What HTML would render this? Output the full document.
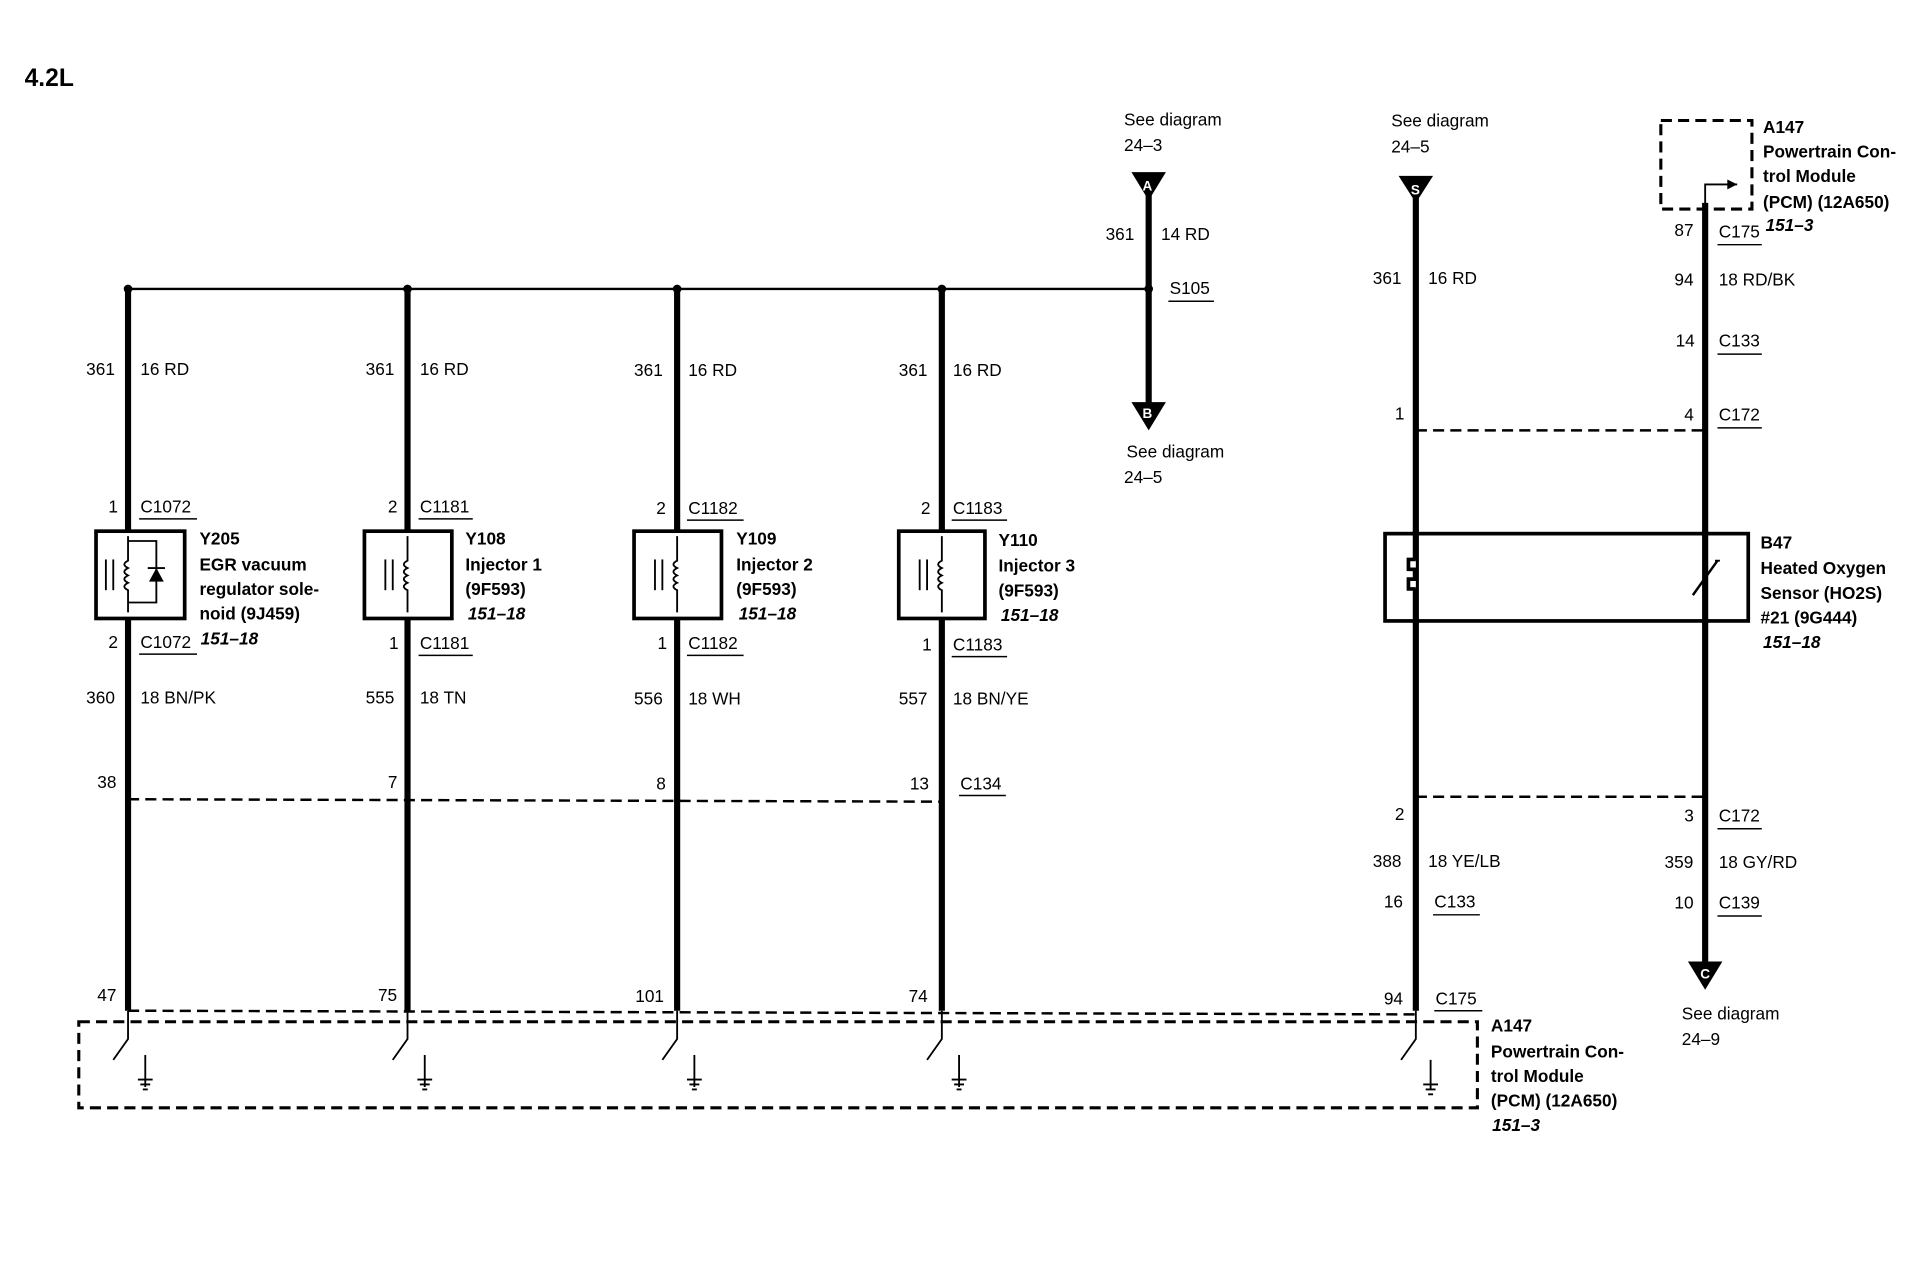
<!DOCTYPE html>
<html><head><meta charset="utf-8"><style>
html,body{margin:0;padding:0;background:#fff;}
svg{display:block;}
text{font-family:"Liberation Sans",Arial,sans-serif;font-size:14px;fill:#000;}
.b{font-weight:bold;}
.i{font-weight:bold;font-style:italic;}
.w{stroke:#000;stroke-width:5;fill:none;}
.t{stroke:#000;stroke-width:1.5;fill:none;}
.d{stroke:#000;stroke-width:2;fill:none;stroke-dasharray:9,5;}
.bx{stroke:#000;stroke-width:3;fill:#fff;}
.u{stroke:#000;stroke-width:1.2;}
</style></head><body>
<svg width="1928" height="1264" viewBox="0 0 1566 1028" preserveAspectRatio="none" xmlns="http://www.w3.org/2000/svg">
<text x="20" y="70" class="b" style="font-size:20px">4.2L</text>

<line x1="104" y1="235" x2="930" y2="235" class="t" style="stroke-width:2"/>
<g fill="#000"><circle cx="104" cy="235" r="3.5"/><circle cx="331" cy="235" r="3.5"/><circle cx="550" cy="235" r="3.5"/><circle cx="765" cy="235" r="3.5"/><circle cx="933" cy="235" r="3.5"/></g>

<line x1="933" y1="158" x2="933" y2="330" class="w"/>
<polygon points="919,140 947,140 933,163" fill="#000"/><text x="928" y="155" style="fill:#fff;font-size:11px" class="b">A</text>
<polygon points="919,327 947,327 933,350" fill="#000"/><text x="928" y="340" style="fill:#fff;font-size:11px" class="b">B</text>
<text x="913" y="102">See diagram</text><text x="913" y="123">24–3</text>
<text x="898" y="195">361</text><text x="943" y="195">14 RD</text>
<text x="950" y="239">S105</text><line x1="949" y1="245" x2="986" y2="245" class="u"/>
<text x="915" y="372">See diagram</text><text x="913" y="393">24–5</text>

<g class="w">
<line x1="104" y1="235" x2="104" y2="432"/><line x1="104" y1="503" x2="104" y2="822"/>
<line x1="331" y1="235" x2="331" y2="432"/><line x1="331" y1="503" x2="331" y2="822"/>
<line x1="550" y1="235" x2="550" y2="432"/><line x1="550" y1="503" x2="550" y2="822"/>
<line x1="765" y1="235" x2="765" y2="432"/><line x1="765" y1="503" x2="765" y2="822"/>
<line x1="1150" y1="160" x2="1150" y2="822"/>
<line x1="1385" y1="165" x2="1385" y2="785"/>
</g>
<text x="70" y="305">361</text><text x="114" y="305">16 RD</text>
<text x="297" y="305">361</text><text x="341" y="305">16 RD</text>
<text x="515" y="306">361</text><text x="559" y="306">16 RD</text>
<text x="730" y="306">361</text><text x="774" y="306">16 RD</text>

<rect x="78" y="432" width="72" height="71" class="bx"/>
<rect x="296" y="432" width="71" height="71" class="bx"/>
<rect x="515" y="432" width="71" height="71" class="bx"/>
<rect x="730" y="432" width="70" height="71" class="bx"/>
<g class="t">
<line x1="86" y1="455" x2="86" y2="480"/><line x1="92" y1="455" x2="92" y2="480"/>
<path d="M104 436 v20 q-6 3 0 6 q-6 3 0 6 q-6 3 0 6 q-6 3 0 6 v18"/>
<path d="M104 440 h23 v50 h-23"/>
<line x1="313" y1="455" x2="313" y2="480"/><line x1="319" y1="455" x2="319" y2="480"/>
<path d="M331 436 v20 q-6 3 0 6 q-6 3 0 6 q-6 3 0 6 q-6 3 0 6 v18"/>
<line x1="532" y1="455" x2="532" y2="480"/><line x1="538" y1="455" x2="538" y2="480"/>
<path d="M550 436 v20 q-6 3 0 6 q-6 3 0 6 q-6 3 0 6 q-6 3 0 6 v18"/>
<line x1="747" y1="455" x2="747" y2="480"/><line x1="753" y1="455" x2="753" y2="480"/>
<path d="M765 436 v20 q-6 3 0 6 q-6 3 0 6 q-6 3 0 6 q-6 3 0 6 v18"/>
</g>
<polygon points="121,473 133,473 127,462" fill="#000"/><line x1="120" y1="462" x2="134" y2="462" class="t"/>

<text x="88" y="417">1</text><text x="114" y="417">C1072</text><line x1="113" y1="422" x2="160" y2="422" class="u"/>
<text x="315" y="417">2</text><text x="341" y="417">C1181</text><line x1="340" y1="422" x2="384" y2="422" class="u"/>
<text x="533" y="418">2</text><text x="559" y="418">C1182</text><line x1="558" y1="423" x2="604" y2="423" class="u"/>
<text x="748" y="418">2</text><text x="774" y="418">C1183</text><line x1="773" y1="423" x2="818" y2="423" class="u"/>

<text x="162" y="443" class="b">Y205</text><text x="162" y="464" class="b">EGR vacuum</text><text x="162" y="484" class="b">regulator sole-</text><text x="162" y="504" class="b">noid (9J459)</text><text x="163" y="524" class="i">151–18</text>
<text x="378" y="443" class="b">Y108</text><text x="378" y="464" class="b">Injector 1</text><text x="378" y="484" class="b">(9F593)</text><text x="380" y="504" class="i">151–18</text>
<text x="598" y="443" class="b">Y109</text><text x="598" y="464" class="b">Injector 2</text><text x="598" y="484" class="b">(9F593)</text><text x="600" y="504" class="i">151–18</text>
<text x="811" y="444" class="b">Y110</text><text x="811" y="465" class="b">Injector 3</text><text x="811" y="485" class="b">(9F593)</text><text x="813" y="505" class="i">151–18</text>

<text x="88" y="527">2</text><text x="114" y="527">C1072</text><line x1="113" y1="532" x2="160" y2="532" class="u"/>
<text x="316" y="528">1</text><text x="341" y="528">C1181</text><line x1="340" y1="533" x2="384" y2="533" class="u"/>
<text x="534" y="528">1</text><text x="559" y="528">C1182</text><line x1="558" y1="533" x2="604" y2="533" class="u"/>
<text x="749" y="529">1</text><text x="774" y="529">C1183</text><line x1="773" y1="534" x2="818" y2="534" class="u"/>

<text x="70" y="572">360</text><text x="114" y="572">18 BN/PK</text>
<text x="297" y="572">555</text><text x="341" y="572">18 TN</text>
<text x="515" y="573">556</text><text x="559" y="573">18 WH</text>
<text x="730" y="573">557</text><text x="774" y="573">18 BN/YE</text>

<text x="79" y="641">38</text><text x="315" y="641">7</text><text x="533" y="642">8</text><text x="739" y="642">13</text>
<text x="780" y="642">C134</text><line x1="779" y1="647" x2="817" y2="647" class="u"/>
<line x1="104" y1="650" x2="765" y2="652" class="d"/>

<text x="79" y="814">47</text><text x="307" y="814">75</text><text x="516" y="815">101</text><text x="738" y="815">74</text>
<text x="1124" y="817">94</text><text x="1166" y="817">C175</text><line x1="1165" y1="822" x2="1204" y2="822" class="u"/>
<line x1="104" y1="822" x2="1150" y2="825" class="d"/>
<rect x="64" y="831" width="1136" height="70" class="d" style="stroke-width:2.5"/>
<text x="1211" y="839" class="b">A147</text><text x="1211" y="860" class="b">Powertrain Con-</text><text x="1211" y="880" class="b">trol Module</text><text x="1211" y="900" class="b">(PCM) (12A650)</text><text x="1212" y="920" class="i">151–3</text>

<g class="t">
<path d="M104 822 v23 l-12 17"/><path d="M118 858 v26 M112 878 h12 M114 882 h8 M116 886 h4"/>
<path d="M331 822 v23 l-12 17"/><path d="M345 858 v26 M339 878 h12 M341 882 h8 M343 886 h4"/>
<path d="M550 822 v23 l-12 17"/><path d="M564 858 v26 M558 878 h12 M560 882 h8 M562 886 h4"/>
<path d="M765 822 v23 l-12 17"/><path d="M779 858 v26 M773 878 h12 M775 882 h8 M777 886 h4"/>
<path d="M1150 822 v23 l-12 17"/><path d="M1162 862 v24 M1156 882 h12 M1158 886 h8 M1160 890 h4"/>
</g>

<polygon points="1136,143 1164,143 1150,165" fill="#000"/><text x="1146" y="158" style="fill:#fff;font-size:11px" class="b">S</text>
<text x="1130" y="103">See diagram</text><text x="1130" y="124">24–5</text>
<text x="1115" y="231">361</text><text x="1160" y="231">16 RD</text>
<text x="1133" y="341">1</text>
<line x1="1150" y1="350" x2="1385" y2="350" class="d"/>
<rect x="1349" y="98" width="74" height="72" class="d" style="stroke-width:2.5"/>
<path d="M1385 170 v-20 h26" class="t"/><polygon points="1403,146 1411,150 1403,154" fill="#000"/>
<text x="1432" y="108" class="b">A147</text><text x="1432" y="128" class="b">Powertrain Con-</text><text x="1432" y="148" class="b">trol Module</text><text x="1432" y="169" class="b">(PCM) (12A650)</text>
<text x="1360" y="192">87</text><text x="1396" y="193">C175</text><line x1="1395" y1="199" x2="1431" y2="199" class="u"/><text x="1434" y="188" class="i">151–3</text>
<text x="1360" y="232">94</text><text x="1396" y="232">18 RD/BK</text>
<text x="1361" y="282">14</text><text x="1396" y="282">C133</text><line x1="1395" y1="288" x2="1431" y2="288" class="u"/>
<text x="1368" y="342">4</text><text x="1396" y="342">C172</text><line x1="1395" y1="348" x2="1431" y2="348" class="u"/>

<rect x="1125" y="434" width="295" height="71" class="bx"/>
<line x1="1150" y1="432" x2="1150" y2="507" class="w"/>
<path d="M1150 455 h-6 v8 h6 v8 h-6 v8 h6" class="t" style="stroke-width:3;fill:#fff"/>
<line x1="1385" y1="432" x2="1385" y2="507" class="w"/>
<line x1="1375" y1="484" x2="1395" y2="456" class="t" style="stroke-width:2"/><line x1="1393" y1="456" x2="1397" y2="456" class="t"/>
<text x="1430" y="446" class="b">B47</text><text x="1430" y="467" class="b">Heated Oxygen</text><text x="1430" y="487" class="b">Sensor (HO2S)</text><text x="1430" y="507" class="b">#21 (9G444)</text><text x="1432" y="527" class="i">151–18</text>

<line x1="1150" y1="648" x2="1385" y2="648" class="d"/>
<text x="1133" y="667">2</text>
<text x="1368" y="668">3</text><text x="1396" y="668">C172</text><line x1="1395" y1="674" x2="1431" y2="674" class="u"/>
<text x="1115" y="705">388</text><text x="1160" y="705">18 YE/LB</text>
<text x="1352" y="706">359</text><text x="1396" y="706">18 GY/RD</text>
<text x="1124" y="738">16</text><text x="1165" y="738">C133</text><line x1="1164" y1="744" x2="1202" y2="744" class="u"/>
<text x="1360" y="739">10</text><text x="1396" y="739">C139</text><line x1="1395" y1="745" x2="1431" y2="745" class="u"/>
<polygon points="1371,782 1399,782 1385,805" fill="#000"/><text x="1381" y="796" style="fill:#fff;font-size:11px" class="b">C</text>
<text x="1366" y="829">See diagram</text><text x="1366" y="850">24–9</text>
</svg>
</body></html>
